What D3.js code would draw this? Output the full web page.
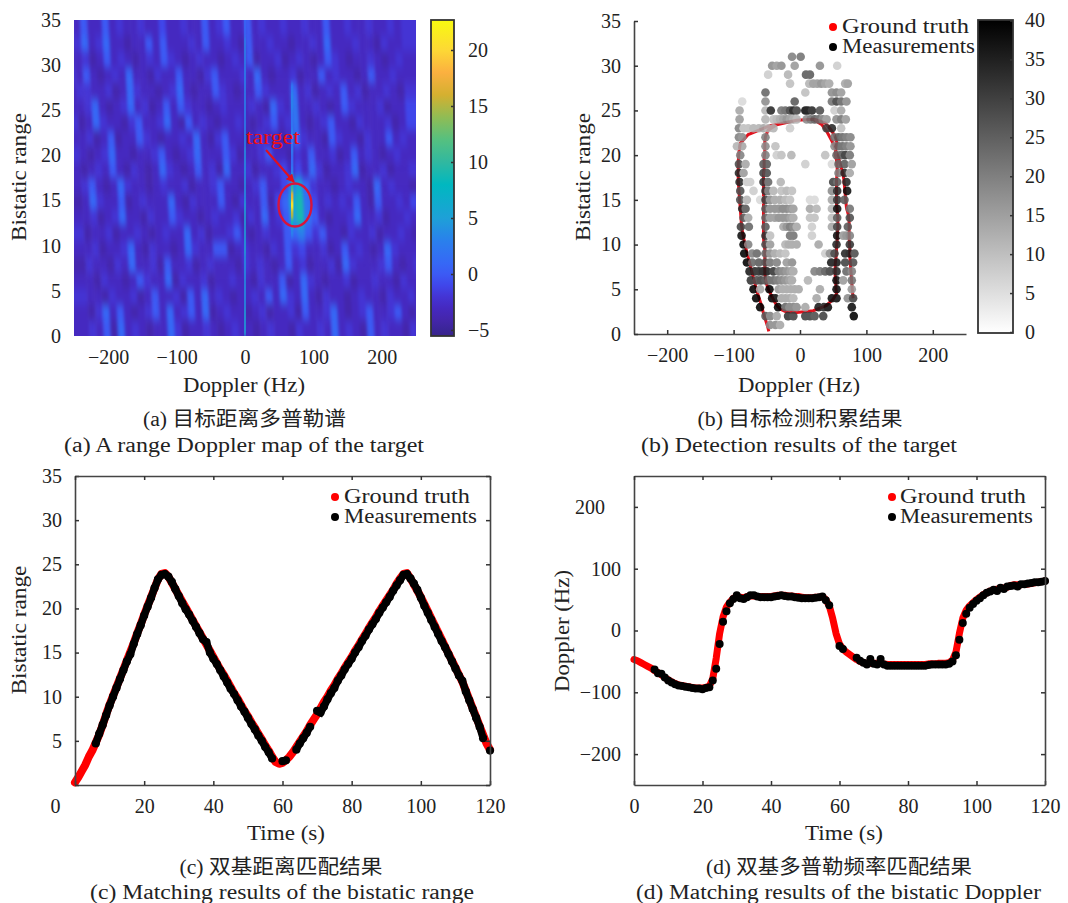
<!DOCTYPE html>
<html>
<head>
<meta charset="utf-8">
<script src="https://cdn.jsdelivr.net/npm/d3@7/dist/d3.min.js"></script>
<style>
html,body{margin:0;padding:0;background:#fff;}
svg{display:block;}
text{fill:#222;font-family:"Liberation Serif","Noto Sans CJK SC",serif;}
</style>
</head>
<body>
<div id="grafico"></div>
<script>
// (a) range Doppler map, read by eye, top row = range 35, 48 Doppler bins per row
var mapRows = [
[-2,-3,0,-3,-3,0,-3,-2,-3,-3,-2,-3,-3,-1,-3,-3,-2,-3,-3,0,-3,-2,0,-3,-3,0,-3,-2,-3,-3,-2,-3,-3,-2,-3,-3,0,-3,-3,-2,-3,-3,-2,-3,-3,-2,-3,-2],
[-3,-2,1,-3,-2,1,-3,-3,-4,-3,-3,0,-3,0,-3,-3,-3,-2,-3,0,-3,-3,-2,-3,-4,0,-3,-3,-2,-3,-3,-4,-3,-3,-2,-3,1,-3,-3,-3,-2,-3,-3,-4,-2,-3,-3,-2],
[-3,-3,-2,-4,-3,0,-3,-2,-3,-4,-3,-2,-3,0,-2,-3,-4,-3,-2,-3,-3,-4,-3,-2,-3,0,-4,-3,-3,-2,-4,-3,-2,-3,-4,-3,0,-2,-3,-4,-3,-3,-2,-3,-4,-3,-2,-3],
[-2,-3,0,-3,-4,-3,-2,-3,1,-3,-3,-4,-2,-3,-3,0,-3,-3,-4,-2,0,-3,-3,-3,-2,-3,1,-3,-4,-3,-3,-2,-4,-3,-3,0,-3,-2,-3,-3,-4,-3,0,-3,-3,-2,-3,-3],
[-3,-2,-2,-3,-3,-2,-4,-3,1,-2,-3,-3,-4,-3,-2,1,-3,-4,-3,-3,0,-2,-3,-4,-3,-3,0,-2,-3,-3,-3,1,-3,-2,-4,-3,-2,-3,0,-3,-2,-4,-3,-3,-2,-3,-4,-2],
[-3,-3,-2,1,-3,-4,-3,-2,1,-3,-2,-4,-3,0,-3,0,-2,-3,-3,-4,-3,-2,-3,-3,-3,-2,-3,-4,1,-2,-3,2,-3,-3,-2,-3,-4,-3,0,-2,-3,-3,-3,-2,-4,-3,-3,-1],
[-2,-4,-3,1,-2,-3,-3,-4,-2,0,-3,-3,-2,1,-3,-4,0,-3,-2,-3,-4,-3,-3,-2,-3,-4,-3,-2,0,-3,-2,2,-3,-4,-3,-2,0,-3,-3,-4,-2,-3,-3,-3,-2,-4,-3,-1],
[-3,-3,-2,-4,-3,0,-4,-3,-3,0,-2,-3,-4,-3,-3,-2,-3,1,-3,-4,-2,0,-3,-3,-4,-3,-2,-3,-3,-4,-3,1,-2,-3,-3,-4,0,-2,-3,-3,-4,-2,-3,-3,0,-3,-2,-3],
[-2,-3,-4,-3,-2,1,-3,-3,-4,-3,-3,-2,0,-3,-4,-3,-2,1,-3,-3,-3,0,-2,-4,-3,-3,-2,0,-3,-3,-4,-2,-3,0,-3,-3,-2,-4,-3,0,-3,-2,-3,-4,-3,-2,-3,-3],
[-3,-4,-3,-2,-3,0,-3,-4,-2,-3,-4,-3,1,-2,-3,-4,-3,0,-3,-2,-4,1,-3,-3,-2,-4,-3,-3,-2,-1,-3,-1,-3,1,-2,-4,-3,-3,-2,1,-4,-3,-3,-2,-4,-3,-3,-2],
[-3,-2,0,-3,-4,-3,1,-2,-3,-3,-4,-3,-2,-3,-3,-2,-4,-3,-3,-2,0,-3,-3,-4,-3,-2,0,-3,-3,-1,3,6,1,-2,-3,-3,-4,-3,-2,-3,-3,-4,1,-3,-2,-3,-3,-4],
[-4,-3,1,-2,-3,-3,0,-4,-3,-2,-3,-3,-3,1,-3,-4,-2,-3,-3,-3,0,-3,-4,-2,-3,-3,0,-4,-1,1,6,9,2,-1,-3,-2,-3,-2,-3,0,-3,-4,0,-3,-3,-2,-3,-1],
[-3,-3,-2,-4,-3,-2,1,-3,-3,-4,-2,-3,-3,0,-2,-3,-3,-4,-3,-2,-3,-3,-2,-4,-2,-3,1,-3,-2,0,5,9,2,0,-3,-4,-3,-3,-2,1,-3,-3,-2,-4,-3,-3,-2,-3],
[-2,-4,-3,-3,-2,-4,-3,-3,-2,-3,-4,-3,-2,-3,-3,1,-3,-2,-4,-3,-3,-2,0,-3,-4,-3,-2,-3,-3,0,1,3,0,-2,0,-3,-3,-4,-2,-3,-3,-2,-4,-3,-3,-2,-3,-4],
[-3,-3,-2,-4,-3,-3,-2,1,-3,-4,-2,-3,-3,-4,-3,1,-2,-3,-3,0,0,-4,-3,-2,-3,-3,-4,-2,-3,0,-2,-1,-3,-3,-2,-4,-3,0,-3,-2,-3,-4,-3,1,-2,-3,-3,-3],
[-4,-2,-3,-3,-4,-2,-3,1,-3,-3,-2,-4,0,-3,-3,-2,-4,-3,-2,-3,-3,-3,-4,-2,-3,-2,-3,-4,-3,0,-3,-2,-4,-3,-3,-2,-4,1,-2,-3,-3,-3,-2,0,-3,-4,-3,-2],
[-3,-3,-4,-2,-3,-3,-4,-3,0,-2,-3,-3,1,-4,-2,-3,-3,-2,-4,-3,-3,-2,-3,-3,-4,-2,-3,-3,0,-4,-3,1,-2,-3,-4,-3,-3,-2,-4,-3,-3,-2,-3,-3,-4,-2,-3,-3],
[-2,-3,-3,-4,-2,-3,-3,-2,-4,-3,0,-3,-3,-2,-4,0,-3,1,-3,-2,-3,-4,-3,-3,-2,-3,0,-3,1,-2,-3,1,-3,-4,-2,-3,-3,-4,-3,-2,-3,-3,-4,-2,-3,-3,-2,-4],
[-3,-4,-2,1,-3,0,-3,-4,-3,-2,0,-3,1,-3,-2,0,-3,1,-4,-3,-2,-3,-3,-4,-3,-2,-4,-3,-3,-2,-4,0,-3,-3,-2,1,-3,-4,-3,-2,0,-3,-3,-2,0,-3,-4,-2],
[-3,-2,-3,0,-4,1,-3,-2,-3,-4,-3,-3,1,-2,-4,-3,-3,-2,-3,-4,-3,-2,-3,-3,-4,-3,-2,-3,-3,-4,-2,-3,-3,-2,-3,1,-3,-2,-3,-4,0,-3,-2,-3,-3,-4,-2,-3]
];
// thin vertical features of the map
var zeroLineRange = [0,3,6,9,12,15,18,21,24,27,30,33];
var zeroLineValue = [5,4,4,5,5,4,4,3,3,3,3,1];
var targetLineRange = [11,12,13,14,15,16,17,18,19,20,21,22,23,24,25,26,27];
var targetLineValue = [3,7,15,21,17,10,5,2,1,2,2,3,2,2,3,3,2];

var colourValues = [-5.5,-5,-4,-3,-2,-1,0,1,3,5,8,10,12,14,16,18,20,22.7];
var colourStops = ["#38228a","#3a2596","#4426ac","#4529c0","#4434d4","#4046ea","#3c5af4","#3668f6","#2a80ec","#1ea0d8","#00b8c0","#30b8a0","#55c080","#8fbc55","#d4b030","#fbb040","#fdd835","#f8fa10"];

// (b) accumulated detections: dopplers and counts by integer range (index = range)
var detDoppler = [[],
[-45,-37,-30],
[-52,-45,-35,-18,-10,8,15,22,35,81],
[-60,-33,-22,-16,-10,-5,8,28,36,42,78],
[-66,-42,-37,-28,-22,-16,-10,25,48,55,72,80],
[-70,-60,-46,-32,-26,-20,-14,-8,-2,30,55,78],
[-74,-65,-59,-52,-47,-40,-34,-28,-22,-16,-12,12,55,65,78],
[-76,-68,-62,-56,-50,-40,-32,-26,-20,-14,-10,22,30,38,45,55,70,78],
[-80,-72,-62,-52,-45,-35,-20,-12,47,55,68,80],
[-84,-72,-65,-52,-45,-38,-30,-22,38,45,52,68,75,82],
[-85,-78,-52,-45,-22,-17,-12,-5,28,55,75],
[-88,-52,-45,-15,-10,18,56,65,70,75],
[-89,-77,-52,-25,-20,-15,-10,-5,18,48,56,72],
[-85,-78,-52,-45,-38,-32,-26,-20,-14,-10,15,22,48,56,75],
[-87,-82,-52,-45,-38,-32,-26,-20,-14,-10,15,25,48,56,75],
[-90,-80,-60,-52,-45,-38,-30,-22,-15,15,22,48,56,67],
[-90,-70,-52,-48,-40,-28,-20,-12,48,56,71],
[-91,-80,-75,-55,-48,-29,50,56,70],
[-92,-85,-55,-50,58,67,75],
[-92,-82,-55,-50,8,48,58,67,78],
[-90,-52,-35,-28,-13,38,55,62,68,75],
[-95,-87,-52,-37,52,58,64,70,76],
[-92,-87,-52,52,58,64,70,76],
[-92,-85,-78,-70,-62,-55,-48,-40,-15,40,48,62],
[-91,-52,-40,-35,-30,-25,-20,-15,-10,-5,10,16,22,28,34,40,55,62,69],
[-91,-52,-44,-28,-22,-15,-10,-5,8,12,18,30,52,62],
[-87,-52,-8,48,55,62,70],
[-52,8,48,55,62],
[-15,14,20,26,32,38,44,68,72],
[-48,-18,9,15],
[-42,-35,-28,-8,30,56],
[-12,1]
];
var detCount = [[],
[18,18,14],
[26,20,14,32,30,30,30,28,30,40],
[40,40,24,20,20,18,14,36,34,38,38],
[40,40,38,14,14,14,12,14,38,38,18,30],
[40,14,40,16,14,14,14,14,14,14,38,16],
[32,28,30,28,24,24,22,20,18,16,14,12,38,16,22],
[36,34,34,36,36,32,22,20,18,16,14,20,22,26,30,34,24,20],
[40,24,26,28,22,20,16,18,36,36,30,28],
[40,20,24,24,18,14,12,10,8,18,30,34,36,28],
[40,20,28,16,12,14,14,14,14,34,32],
[38,32,10,22,22,8,38,16,18,20],
[30,24,26,14,18,22,20,14,8,14,30,26],
[26,14,24,16,16,18,18,18,16,14,10,10,10,26,28],
[34,26,26,18,18,18,20,20,18,16,14,12,12,38,22],
[28,12,6,30,18,14,14,12,10,6,6,14,32,26],
[28,8,32,22,12,10,12,10,18,34,38],
[34,8,8,32,24,12,30,26,34],
[34,16,30,28,20,34,14],
[28,14,26,26,8,6,24,26,16],
[20,20,8,10,12,10,24,26,32,22],
[12,14,18,10,18,24,24,22,18],
[20,18,20,22,26,24,22,20],
[20,10,10,12,12,14,12,12,8,30,34,10],
[16,12,10,12,14,16,18,16,14,12,18,22,26,24,20,16,18,22,16],
[14,12,34,22,24,30,36,30,38,38,34,28,8,14],
[6,18,26,22,30,24,18],
[24,10,18,20,16],
[10,12,16,16,18,16,14,14,16],
[8,12,26,26],
[18,16,18,16,18,8],
[20,22]
];

// (c) and (d) one sample per second, t = 0..120
var timeS = d3.range(0, 121);
var gtRange = [0.3,0.9,1.6,2.3,3.2,3.9,4.8,5.7,6.8,8.0,9.1,10.1,11.1,12.1,13.1,14.1,15.1,16.1,17.2,18.2,19.3,20.3,21.3,22.3,23.3,23.9,24.0,23.6,22.9,22.2,21.5,20.8,20.1,19.4,18.7,18.0,17.3,16.6,15.9,15.2,14.5,13.8,13.1,12.5,11.8,11.1,10.4,9.8,9.1,8.4,7.8,7.1,6.5,5.8,5.2,4.5,3.9,3.2,2.6,2.4,2.5,2.8,3.2,3.7,4.3,4.9,5.5,6.1,6.8,7.4,8.0,8.7,9.4,10.0,10.7,11.3,12.0,12.6,13.3,13.9,14.5,15.2,15.8,16.5,17.1,17.8,18.4,19.0,19.7,20.3,20.9,21.5,22.1,22.8,23.4,23.9,24.0,23.4,22.7,22.0,21.3,20.5,19.7,18.9,18.1,17.3,16.5,15.7,14.9,14.1,13.3,12.5,11.7,10.7,9.7,8.7,7.7,6.7,5.7,4.7,4.0];
var measRange = [null,null,null,null,null,null,4.7,5.8,6.8,7.9,9.0,10.0,11.0,12.0,13.0,14.0,14.8,16.0,17.1,18.1,19.2,20.2,21.2,22.3,23.3,23.8,23.9,23.6,23.0,22.2,21.4,20.6,19.9,19.3,18.6,17.9,17.2,16.5,16.2,15.0,14.3,13.7,13.0,12.3,11.6,10.9,10.3,9.6,8.9,8.3,7.6,6.9,6.3,5.6,5.0,4.3,3.7,3.0,null,null,2.7,2.8,null,null,4.0,4.7,5.3,5.9,6.6,null,8.4,8.2,8.9,9.7,10.4,11.0,11.8,12.4,13.1,13.7,14.3,15.0,15.6,16.3,16.9,17.6,18.2,18.8,19.5,20.1,20.7,21.3,22.0,22.6,23.2,23.8,23.9,23.4,22.8,22.1,21.2,20.3,19.5,18.7,17.9,17.1,16.3,15.6,14.8,14.0,13.2,12.4,11.8,10.6,9.6,8.6,7.6,6.6,5.3,null,3.9];
var gtDoppler = [-47,-49,-52,-55,-58,-61,-65,-68,-72,-76,-80,-83,-86,-88,-89,-90,-91,-92,-93,-93,-93,-92,-90,-78,-45,-5,22,38,46,52,55,54,53,55,56,56,55,55,55,55,55,56,57,57,57,56,56,55,55,54,53,53,53,54,54,55,50,40,20,-5,-22,-30,-35,-39,-43,-47,-50,-52,-53,-53,-53,-53,-53,-54,-55,-55,-55,-55,-55,-55,-55,-55,-55,-55,-55,-55,-54,-54,-54,-53,-53,-53,-52,-48,-35,-5,20,33,40,45,50,54,58,61,64,66,67,68,69,70,73,74,74,74,75,75,76,77,78,79,80];
var measDoppler = [null,null,null,null,null,null,-63,-69,-70,-76,-81,-84,-87,-89,-90,-91,-92,-93,-94,-94,-95,-93,-92,-81,-62,-22,14,31,44,51,57,52,51,54,57,57,55,54,54,54,54,55,56,57,56,55,55,54,53,52,52,52,52,53,54,55,49,41,null,null,-25,-30,null,null,null,-44,-49,-52,-55,-46,-54,-55,-46,-55,-57,-57,-57,-57,-57,-57,-57,-57,-57,-57,-57,-57,-56,-55,-55,-55,-55,-55,-54,-50,-40,-15,12,27,37,43,48,52,57,61,63,66,64,69,67,71,72,73,71,75,75,76,77,78,78,79,80];

var panelTicksTime = [0,20,40,60,80,100,120];
var panelTicksRange = [0,5,10,15,20,25,30,35];
var panelTicksDoppler = [-200,-100,0,100,200];
var mapBarTicks = [-5,0,5,10,15,20];
var detBarTicks = [0,5,10,15,20,25,30,35,40];

var minusFmt = function(d){ return d < 0 ? "\u2212" + (-d) : "" + d; };
var svg = d3.select("#grafico").append("svg").attr("width", 1068).attr("height", 903);
var defs = svg.append("defs");

// texto com largura fixa, a fonte do original (CM) e mais larga que a serif instalada
function fitText(x, y, str, len, size, rotate){
    var t = svg.append("text")
        .attr("text-anchor", "middle")
        .attr("dy", "0.34em")
        .attr("font-size", size || 20)
        .attr("textLength", len)
        .attr("lengthAdjust", "spacingAndGlyphs")
        .text(str);
    if(rotate) t.attr("transform", "translate(" + x + "," + y + ") rotate(-90)");
    else t.attr("x", x).attr("y", y);
    return t;
}

function styleAxis(g, hideDomain, hideTicks){
    g.attr("font-size", 20).attr("font-family", null);
    g.selectAll("text").attr("font-size", 20);
    g.selectAll(".tick line").attr("stroke", hideTicks ? "none" : "#333").attr("stroke-width", 1.5);
    g.select(".domain").attr("stroke", hideDomain ? "none" : "#444").attr("stroke-width", 1.6);
    return g;
}

function drawAxes(x, y, xTicks, yTicks, box, hide){
    var b = svg.append("g").attr("transform", "translate(0," + box.bottom + ")")
        .call(d3.axisBottom(x).tickValues(xTicks).tickSizeInner(-4).tickSizeOuter(0).tickPadding(14).tickFormat(minusFmt));
    styleAxis(b, hide, hide);
    var l = svg.append("g").attr("transform", "translate(" + box.left + ",0)")
        .call(d3.axisLeft(y).tickValues(yTicks).tickSizeInner(-4).tickSizeOuter(0).tickPadding(13).tickFormat(minusFmt));
    styleAxis(l, hide, hide);
    return {bottom: b, left: l};
}

function drawFrame(x, y, xTicks, yTicks, box){
    var t = svg.append("g").attr("transform", "translate(0," + box.top + ")")
        .call(d3.axisTop(x).tickValues(xTicks).tickSizeInner(-4).tickSizeOuter(0).tickFormat(""));
    styleAxis(t);
    var r = svg.append("g").attr("transform", "translate(" + box.right + ",0)")
        .call(d3.axisRight(y).tickValues(yTicks).tickSizeInner(-4).tickSizeOuter(0).tickFormat(""));
    styleAxis(r);
}

function drawColorbar(id, colour, domain, x, w, top, bottom, scale, ticks, pad){
    var grad = defs.append("linearGradient").attr("id", id)
        .attr("x1", 0).attr("x2", 0).attr("y1", 1).attr("y2", 0);
    grad.selectAll("stop").data(domain).enter().append("stop")
        .attr("offset", function(d){ return (d - domain[0]) / (domain[domain.length - 1] - domain[0]); })
        .attr("stop-color", function(d){ return colour(d); });
    svg.append("rect").attr("x", x).attr("y", top).attr("width", w).attr("height", bottom - top)
        .attr("fill", "url(#" + id + ")").attr("stroke", "#333").attr("stroke-width", 1.8);
    var g = svg.append("g").attr("transform", "translate(" + (x + w) + ",0)")
        .call(d3.axisRight(scale).tickValues(ticks).tickSizeInner(-3).tickSizeOuter(0).tickPadding(pad).tickFormat(minusFmt));
    styleAxis(g, true);
}

function drawLegend(cx, y1, y2, tx, lenGt, lenMeas){
    svg.append("circle").attr("cx", cx).attr("cy", y1).attr("r", 4).attr("fill", "#f00");
    svg.append("circle").attr("cx", cx).attr("cy", y2).attr("r", 4).attr("fill", "#000");
    fitText(tx + lenGt / 2, y1 - 1, "Ground truth", lenGt);
    fitText(tx + lenMeas / 2, y2 - 1, "Measurements", lenMeas);
}

// ---------- (a)
var colourA = d3.scaleLinear().domain(colourValues).range(colourStops).clamp(true);
var xA = d3.scaleLinear().domain([-250, 250]).range([74, 416]);
var yA = d3.scaleLinear().domain([0, 35]).range([336, 20]);
var mapCols = d3.scaleBand().domain(d3.range(mapRows[0].length)).range(xA.domain());
var mapLines = d3.scaleBand().domain(d3.range(mapRows.length)).range([0, 35]);

defs.append("clipPath").attr("id", "clipA").append("rect")
    .attr("x", 74).attr("y", 20).attr("width", 342).attr("height", 316);
var blur = defs.append("filter").attr("id", "blurMap")
    .attr("filterUnits", "userSpaceOnUse").attr("x", 20).attr("y", -20).attr("width", 450).attr("height", 400)
    .attr("color-interpolation-filters", "sRGB");
blur.append("feGaussianBlur").attr("stdDeviation", "1.6 5");
var blurThin = defs.append("filter").attr("id", "blurThin")
    .attr("filterUnits", "userSpaceOnUse").attr("x", 60).attr("y", 0).attr("width", 370).attr("height", 350)
    .attr("color-interpolation-filters", "sRGB");
blurThin.append("feGaussianBlur").attr("stdDeviation", "0.5 2");

var mapG = svg.append("g").attr("clip-path", "url(#clipA)");
// as faixas do original sao levemente inclinadas, dai o skew em torno de y=178
var cells = mapG.append("g").attr("filter", "url(#blurMap)")
    .attr("transform", "translate(-9.3,0) skewX(3)");
var lineH = yA(0) - yA(mapLines.bandwidth());
mapRows.forEach(function(row, i){
    // a primeira e a ultima linha passam da borda, para o blur nao clarear os cantos
    var extra = (i === 0 || i === mapRows.length - 1) ? lineH : 0;
    cells.selectAll("rect.row" + i).data(row).enter().append("rect")
        .attr("class", "row" + i)
        .attr("x", function(d, j){ return xA(mapCols(j)) - (j === 0 ? 25 : 0); })
        .attr("y", yA(35 - mapLines(i)) - (i === 0 ? extra : 0))
        .attr("width", function(d, j){ return xA(mapCols.bandwidth()) - xA(0) + 0.5 + (j === 0 || j === row.length - 1 ? 25 : 0); })
        .attr("height", lineH + 0.5 + extra)
        .attr("fill", function(d){ return colourA(d); });
});
var thin = mapG.append("g").attr("filter", "url(#blurThin)");
thin.selectAll("rect.zero").data(zeroLineRange).enter().append("rect").attr("class", "zero")
    .attr("x", xA(0) - 0.8).attr("width", 1.6)
    .attr("y", function(d){ return yA(d + 3); })
    .attr("height", yA(0) - yA(3))
    .attr("fill", function(d, i){ return colourA(zeroLineValue[i]); });
thin.selectAll("rect.tgt").data(targetLineRange).enter().append("rect").attr("class", "tgt")
    .attr("x", xA(69) - 1.2).attr("width", 2.4)
    .attr("y", function(d){ return yA(d + 1); })
    .attr("height", yA(0) - yA(1))
    .attr("fill", function(d, i){ return colourA(targetLineValue[i]); });

drawAxes(xA, yA, panelTicksDoppler, panelTicksRange, {left: 74, bottom: 336}, true);
drawColorbar("barA", colourA, colourValues, 431, 23, 20, 336, d3.scaleLinear().domain([-5, 20]).range([330, 50]), mapBarTicks, 14);

// anotacao
defs.append("marker").attr("id", "head").attr("viewBox", "0 0 10 10").attr("refX", 9).attr("refY", 5)
    .attr("markerWidth", 4.2).attr("markerHeight", 4.2).attr("orient", "auto")
    .append("path").attr("d", "M0,0L10,5L0,10z").attr("fill", "#e01020");
svg.append("line").attr("x1", 266).attr("y1", 150).attr("x2", 294).attr("y2", 182)
    .attr("stroke", "#e01020").attr("stroke-width", 2).attr("marker-end", "url(#head)");
svg.append("ellipse").attr("cx", 295).attr("cy", 205).attr("rx", 16.5).attr("ry", 21.5)
    .attr("fill", "none").attr("stroke", "#d8143c").attr("stroke-width", 2.4);
fitText(273, 137, "target", 54).style("fill", "#f01010");

fitText(244, 385, "Doppler (Hz)", 122);
fitText(19, 177, "Bistatic range", 128, 20, true);
fitText(244.5, 419, "(a) 目标距离多普勒谱", 203, 20);
fitText(244, 445, "(a) A range Doppler map of the target", 360, 20);

// ---------- (b)
var xB = d3.scaleLinear().domain([-250, 250]).range([634, 966]);
var yB = d3.scaleLinear().domain([0, 35]).range([334, 21]);
var grey = d3.scaleLinear().domain([0, 40]).range(["#ffffff", "#000000"]);

var pathB = d3.line()
    .x(function(d){ return xB(gtDoppler[d]); })
    .y(function(d){ return yB(gtRange[d]); });
svg.append("path").attr("d", pathB(timeS)).attr("fill", "none")
    .attr("stroke", "#e2101c").attr("stroke-width", 3);

var detG = svg.append("g").attr("opacity", 0.88);
detDoppler.forEach(function(row, r){
    detG.selectAll("circle.r" + r).data(row).enter().append("circle")
        .attr("class", "r" + r)
        .attr("cx", function(d){ return xB(d); })
        .attr("cy", yB(r))
        .attr("r", 4.3)
        .attr("fill", function(d, i){ return grey(detCount[r][i]); });
});

drawAxes(xB, yB, panelTicksDoppler, panelTicksRange, {left: 634, bottom: 334});
drawColorbar("barB", grey, [0, 40], 978, 35, 20, 333, d3.scaleLinear().domain([0, 40]).range([332, 20.5]), detBarTicks, 12);
drawLegend(833, 27, 47, 842, 127, 133);

fitText(799, 385, "Doppler (Hz)", 122);
fitText(583, 177, "Bistatic range", 128, 20, true);
fitText(800, 419, "(b) 目标检测积累结果", 205, 20);
fitText(799, 445, "(b) Detection results of the target", 316, 20);

// ---------- (c) e (d)
function drawTrack(x, y, gt, meas, lineWidth, radius, joinMeas){
    var line = d3.line().x(function(d){ return x(d); });
    svg.append("path")
        .attr("d", line.y(function(d){ return y(gt[d]); })(timeS))
        .attr("fill", "none").attr("stroke", "#f00").attr("stroke-width", lineWidth)
        .attr("stroke-linecap", "round").attr("stroke-linejoin", "round");
    if(joinMeas){
        var mLine = d3.line()
            .defined(function(d){ return meas[d] !== null; })
            .x(function(d){ return x(d); })
            .y(function(d){ return y(meas[d]); });
        svg.append("path").attr("d", mLine(timeS)).attr("fill", "none")
            .attr("stroke", "#000").attr("stroke-width", radius * 1.8);
    }
    svg.append("g").selectAll("circle")
        .data(timeS.filter(function(d){ return meas[d] !== null; }))
        .enter().append("circle")
        .attr("cx", function(d){ return x(d); })
        .attr("cy", function(d){ return y(meas[d]); })
        .attr("r", radius)
        .attr("fill", "#000");
}

var xC = d3.scaleLinear().domain([0, 120]).range([75, 490]);
var yC = d3.scaleLinear().domain([0, 35]).range([785, 476]);
var boxC = {left: 75, right: 490, top: 476, bottom: 785};
drawTrack(xC, yC, gtRange, measRange, 8, 4.1, true);
var axesC = drawAxes(xC, yC, panelTicksTime, panelTicksRange, boxC);
drawFrame(xC, yC, panelTicksTime, panelTicksRange, boxC);
// no original o "0" fica deslocado para a esquerda e o 0 do eixo y nao aparece
axesC.bottom.selectAll(".tick text").filter(function(d){ return d === 0; }).attr("x", -20);
axesC.left.selectAll(".tick").filter(function(d){ return d === 0; }).select("text").text("");
drawLegend(335, 497, 517, 344, 126, 133);

fitText(286, 833, "Time (s)", 78);
fitText(19, 630, "Bistatic range", 129, 20, true);
fitText(281, 867, "(c) 双基距离匹配结果", 203, 20);
fitText(282, 892, "(c) Matching results of the bistatic range", 384, 20);

var xD = d3.scaleLinear().domain([0, 120]).range([634, 1045]);
var yD = d3.scaleLinear().domain([-250, 250]).range([785, 476]);
var boxD = {left: 634, right: 1045, top: 476, bottom: 785};
drawTrack(xD, yD, gtDoppler, measDoppler, 7, 4, false);
var axesD = drawAxes(xD, yD, panelTicksTime, panelTicksDoppler, boxD);
drawFrame(xD, yD, panelTicksTime, panelTicksDoppler, boxD);
axesD.left.selectAll(".tick text").filter(function(d){ return d === 200; }).attr("x", -29);
drawLegend(892, 497, 517, 900, 126, 133);

fitText(844, 833, "Time (s)", 78);
fitText(562, 631, "Doppler (Hz)", 122, 20, true);
fitText(839, 867, "(d) 双基多普勒频率匹配结果", 266, 20);
fitText(838.5, 892, "(d) Matching results of the bistatic Doppler", 405, 20);
</script>
</body>
</html>
